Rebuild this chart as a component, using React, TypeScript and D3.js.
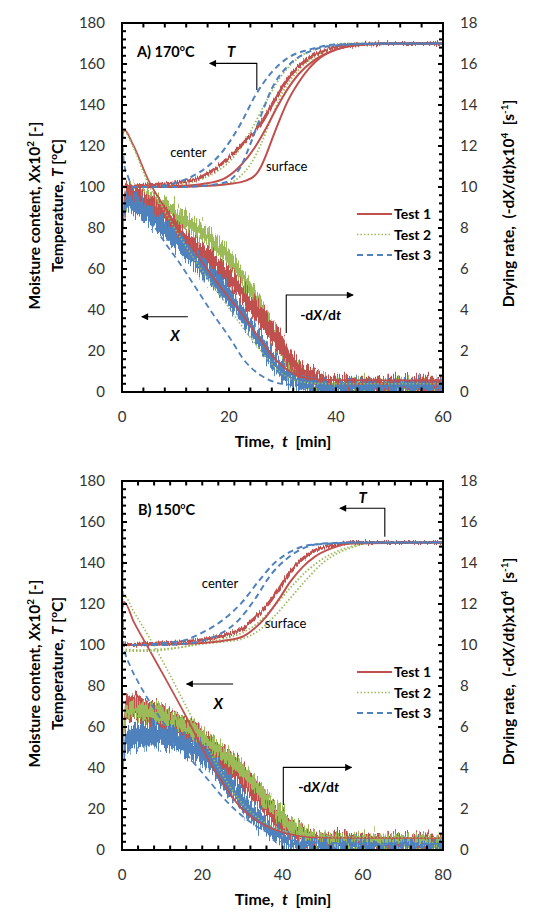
import * as d3 from "d3";

type Pt = [number, number];
type Band = [number, number, number]; // time, mean rate, half-width of the scatter

const testNames = ["Test 1", "Test 2", "Test 3"];
const colors = ["#C0504D", "#9BBB59", "#4F81BD"];
const dashes = ["none", "1.5 2", "6 4"];
const widths = [2, 1.8, 2];

const leftTicks = d3.range(0, 181, 20);
const rightTicks = d3.range(0, 19, 2);

// ---- A) 170 °C, 60 min ----
const aTimeTicks = [0, 20, 40, 60];

const aX1: Pt[] = [[0, 122], [0.4, 128], [2, 121], [5, 103], [8, 90], [11, 78], [14, 67], [17, 56], [20, 46], [23, 36], [26, 25], [29, 15], [32, 9], [35, 6.5], [40, 5.8], [60, 5.6]];
const aX2: Pt[] = [[0, 120], [0.4, 127], [2, 120], [5, 101], [8, 88], [11, 75], [14, 63], [17, 52], [20, 41], [23, 30], [26, 20], [29, 11], [32, 6], [35, 4.5], [40, 4], [60, 4]];
const aX3: Pt[] = [[0, 125], [0.4, 111], [1, 106], [2, 99], [3, 93], [5, 85], [8, 73], [11, 62], [14, 50], [17, 38], [20, 27], [23, 15], [26, 8], [29, 4.5], [32, 3.5], [40, 3], [60, 3]];

const aT1c: Pt[] = [[0, 100], [5, 101], [10, 102], [14, 104], [18, 110], [21, 117], [24, 125], [26, 131], [28, 140], [30, 149], [32, 156], [35, 163], [38, 167], [42, 169], [50, 170], [60, 170]];
const aT1m: Pt[] = [[0, 100], [10, 100.5], [15, 101.5], [19, 104], [22, 110], [25, 120], [27, 129], [29, 139], [31, 148], [33, 155], [36, 162], [40, 167], [45, 169.5], [52, 170], [60, 170]];
const aT1s: Pt[] = [[0, 100], [10, 100], [15, 100.5], [20, 101.5], [23, 103], [25, 106], [26, 110], [27, 116], [28, 123], [29.5, 133], [31, 142], [33, 151], [35, 158], [37, 163], [40, 167], [45, 169.5], [50, 170], [60, 170]];
const aT2c: Pt[] = [[0, 100], [10, 101], [15, 104], [18, 108], [21, 115], [24, 127], [27, 142], [30, 155], [33, 163], [37, 168], [42, 170], [60, 170]];
const aT2s: Pt[] = [[0, 100], [15, 100.5], [20, 102], [22, 105], [24, 111], [26, 121], [28, 134], [30, 146], [33, 157], [37, 165], [42, 169.5], [60, 170]];
const aT3c: Pt[] = [[0, 100], [5, 100], [10, 102], [13, 105], [16, 110], [19, 118], [22, 130], [25, 145], [28, 156], [31, 163], [35, 167], [40, 169.5], [50, 170], [60, 170]];
const aT3s: Pt[] = [[0, 100], [10, 100], [15, 100.5], [18, 101.5], [20, 103], [22, 109], [24, 121], [26, 135], [28, 148], [31, 159], [35, 166], [40, 169], [50, 170], [60, 170]];

const aRate1: Band[] = [[0, 0, 0], [0.3, 9.0, 0.4], [1, 9.6, 0.45], [3, 9.5, 0.45], [6, 9.0, 0.45], [9, 8.2, 0.45], [12, 7.4, 0.45], [15, 6.8, 0.45], [18, 6.1, 0.45], [21, 5.3, 0.45], [24, 4.3, 0.45], [27, 3.3, 0.5], [30, 2.2, 0.5], [32, 1.4, 0.45], [34, 0.9, 0.4], [36, 0.7, 0.35], [40, 0.4, 0.3], [60, 0.4, 0.3]];
const aRate2: Band[] = [[0, 0, 0], [0.3, 8.8, 0.4], [1, 9.6, 0.4], [3, 9.5, 0.4], [6, 9.2, 0.4], [9, 8.8, 0.4], [12, 8.3, 0.4], [15, 7.8, 0.4], [18, 7.1, 0.4], [21, 6.2, 0.4], [24, 5.0, 0.4], [27, 3.6, 0.4], [30, 2.1, 0.4], [32, 1.2, 0.35], [34, 0.7, 0.3], [37, 0.4, 0.3], [40, 0.3, 0.3], [60, 0.3, 0.3]];
const aRate3: Band[] = [[0, 0, 0], [0.3, 8.5, 0.4], [1, 9.3, 0.45], [3, 9.0, 0.45], [6, 8.5, 0.45], [9, 7.7, 0.45], [12, 6.9, 0.45], [15, 6.1, 0.45], [18, 5.3, 0.45], [21, 4.3, 0.45], [24, 3.2, 0.45], [27, 2.0, 0.45], [30, 1.0, 0.4], [33, 0.5, 0.35], [36, 0.3, 0.3], [40, 0.25, 0.25], [60, 0.25, 0.25]];

// ---- B) 150 °C, 80 min ----
const bTimeTicks = [0, 20, 40, 60, 80];

const bX1: Pt[] = [[0, 117], [0.5, 121], [3, 111], [7, 97], [11, 83], [16, 65], [21, 46], [25, 33], [29, 22], [33, 15], [38, 10], [43, 7.3], [50, 6], [80, 5.8]];
const bX2: Pt[] = [[0, 120], [0.5, 124], [3, 116], [7, 103], [11, 89], [16, 70], [21, 51], [25, 37], [29, 25], [33, 17], [38, 11], [43, 8], [50, 6.5], [80, 6]];
const bX3: Pt[] = [[0.05, 180], [0.3, 104], [0.6, 98], [2, 90], [4, 82], [7, 72], [10, 63], [13, 55], [16, 47], [19, 40], [22, 33], [25, 26], [28, 20], [31, 15], [34, 11], [37, 8], [40, 6], [45, 4], [50, 3.5], [80, 3]];

const bT1c: Pt[] = [[0, 100], [10, 101], [15, 101.5], [20, 102.5], [25, 104.5], [30, 108], [33, 113], [36, 119], [39, 127], [42, 136], [45, 142], [48, 146], [52, 148.5], [58, 150], [80, 150]];
const bT1s: Pt[] = [[0, 100], [15, 100.5], [20, 101], [25, 102], [30, 104], [33, 108], [36, 114], [39, 122], [42, 131], [45, 138], [48, 143], [52, 147], [57, 149.5], [80, 150]];
const bT2c: Pt[] = [[0, 98], [5, 97.5], [10, 98], [15, 99], [20, 101], [25, 103], [30, 106], [34, 111], [38, 119], [42, 128], [46, 136], [50, 142], [54, 146], [58, 148.5], [62, 150], [80, 150]];
const bT2s: Pt[] = [[0, 97], [5, 97], [10, 97.5], [15, 99], [20, 100.5], [25, 101.5], [30, 103], [34, 107], [38, 114], [42, 123], [46, 132], [50, 140], [54, 145], [58, 148], [63, 150], [80, 150]];
const bT3c: Pt[] = [[0, 100], [5, 100], [10, 101], [15, 102], [20, 106], [25, 112], [30, 121], [34, 131], [38, 140], [42, 145.5], [46, 148.5], [52, 149.5], [60, 150], [80, 150]];
const bT3s: Pt[] = [[0, 100], [10, 100], [15, 100.5], [20, 102], [25, 106], [29, 112], [33, 122], [37, 134], [41, 142], [45, 147], [50, 149.5], [60, 150], [80, 150]];

const bRate1: Band[] = [[0, 0, 0], [0.3, 5.0, 0.5], [1, 6.8, 0.6], [3, 7.0, 0.6], [6, 6.7, 0.6], [9, 6.5, 0.6], [12, 6.2, 0.6], [15, 5.9, 0.6], [18, 5.6, 0.6], [21, 5.1, 0.6], [24, 4.6, 0.6], [27, 4.1, 0.6], [30, 3.6, 0.6], [33, 2.9, 0.6], [36, 2.2, 0.55], [39, 1.5, 0.5], [42, 1.0, 0.45], [45, 0.7, 0.4], [50, 0.5, 0.3], [80, 0.4, 0.3]];
const bRate2: Band[] = [[0, 0, 0], [0.3, 5.5, 0.35], [1, 6.7, 0.35], [3, 6.9, 0.35], [6, 6.8, 0.35], [9, 6.6, 0.35], [12, 6.4, 0.35], [15, 6.1, 0.35], [18, 5.8, 0.35], [21, 5.4, 0.35], [24, 4.9, 0.35], [27, 4.4, 0.35], [30, 3.9, 0.35], [33, 3.2, 0.35], [36, 2.5, 0.35], [39, 1.8, 0.35], [42, 1.2, 0.35], [45, 0.8, 0.3], [50, 0.5, 0.3], [80, 0.35, 0.3]];
const bRate3: Band[] = [[0, 0, 0], [0.3, 4.0, 0.5], [1, 5.3, 0.5], [3, 5.5, 0.5], [6, 5.6, 0.5], [9, 5.6, 0.5], [12, 5.5, 0.5], [15, 5.2, 0.5], [18, 4.9, 0.5], [21, 4.5, 0.5], [24, 3.8, 0.5], [27, 3.1, 0.5], [30, 2.4, 0.5], [33, 1.7, 0.45], [36, 1.2, 0.4], [39, 0.7, 0.35], [42, 0.4, 0.3], [45, 0.25, 0.25], [80, 0.2, 0.2]];

const plotLeft = 122;
const plotWidth = 321;
const plotHeight = 369;
const font = "Lato, 'Open Sans', sans-serif";
const sp = "\u00A0";

type Temp = { data: Pt[]; test: number; w?: number; noisy?: boolean };
type Notes = {
  title: string;
  titleAt: Pt;
  tAt: Pt;
  tArrow: Pt[];
  centerAt: Pt;
  surfaceAt: Pt;
  xArrow: Pt[];
  xAt: Pt;
  rArrow: Pt[];
  rAt: Pt;
};

// each scatter band gets its own noise so overlapping bands interleave
const bandFilters = ["url(#jag0)", "url(#jag1)", "url(#jag2)"];

function Panel({ id, top, xMax, timeTicks, temps, moist, rates, bandOrder, notes }: {
  id: string; top: number; xMax: number; timeTicks: number[];
  temps: Temp[]; moist: Pt[][]; rates: Band[][]; bandOrder: number[]; notes: Notes;
}) {
  const x = d3.scaleLinear().domain([0, xMax]).range([0, plotWidth]);
  const y = d3.scaleLinear().domain([0, 180]).range([plotHeight, 0]);
  const yR = d3.scaleLinear().domain([0, 18]).range([plotHeight, 0]);

  const line = d3.line<Pt>().x((d) => x(d[0])).y((d) => y(d[1])).curve(d3.curveMonotoneX);
  const band = d3.area<Band>()
    .x((d) => x(d[0]))
    .y0((d) => yR(Math.max(0, d[1] - d[2])))
    .y1((d) => yR(d[1] + d[2]))
    .curve(d3.curveMonotoneX);
  const poly = (pts: Pt[]) => "M" + pts.map((p) => `${x(p[0])},${y(p[1])}`).join("L");

  const minorY = d3.range(0, 181, 4);
  const minorX = d3.range(0, xMax + 0.1, 4);
  const lw = 2;

  return (
    <g transform={`translate(${plotLeft},${top})`}>
      <defs>
        <clipPath id={`clip-${id}`}>
          <rect x={0} y={0} width={plotWidth} height={plotHeight} />
        </clipPath>
      </defs>

      <g clipPath={`url(#clip-${id})`}>
        {/* drying rate, right axis */}
        {bandOrder.map((i) => (
          <path key={`r${i}`} d={band(rates[i]) || ""} fill={colors[i]} filter={bandFilters[i]} />
        ))}
        {/* moisture content */}
        {moist.map((m, i) => (
          <path key={`x${i}`} d={line(m) || ""} fill="none" stroke={colors[i]}
            strokeWidth={i === 1 ? 1.6 : 1.8} strokeDasharray={dashes[i]} />
        ))}
        {/* temperatures */}
        {temps.map((s, i) => (
          <path key={`t${i}`} d={line(s.data) || ""} fill="none" stroke={colors[s.test]}
            strokeWidth={s.w ?? widths[s.test]} strokeDasharray={dashes[s.test]}
            filter={s.noisy ? "url(#jagThin)" : undefined} />
        ))}
      </g>

      {/* annotations */}
      <g fontFamily={font} fill="#000">
        <text x={x(notes.titleAt[0])} y={y(notes.titleAt[1])} fontSize={14.5} fontWeight="bold">
          {notes.title}
          <tspan dy={-6} fontSize={9}>o</tspan>
          <tspan dy={6}>C</tspan>
        </text>
        <text x={x(notes.tAt[0])} y={y(notes.tAt[1])} fontSize={15} fontWeight="bold" fontStyle="italic" textAnchor="middle">T</text>
        <path d={poly(notes.tArrow)} fill="none" stroke="#000" strokeWidth={1.1} markerEnd="url(#head)" />
        <text x={x(notes.centerAt[0])} y={y(notes.centerAt[1])} fontSize={13}>center</text>
        <text x={x(notes.surfaceAt[0])} y={y(notes.surfaceAt[1])} fontSize={13}>surface</text>
        <path d={poly(notes.xArrow)} fill="none" stroke="#000" strokeWidth={1.1} markerEnd="url(#head)" />
        <text x={x(notes.xAt[0])} y={y(notes.xAt[1])} fontSize={15} fontWeight="bold" fontStyle="italic" textAnchor="middle">X</text>
        <path d={poly(notes.rArrow)} fill="none" stroke="#000" strokeWidth={1.1} markerEnd="url(#head)" />
        <text x={x(notes.rAt[0])} y={y(notes.rAt[1])} fontSize={14} fontWeight="bold">
          -d<tspan fontStyle="italic">X</tspan>/d<tspan fontStyle="italic">t</tspan>
        </text>
      </g>

      {/* legend */}
      <g fontFamily={font} fontSize={14} fontWeight="bold">
        {testNames.map((n, i) => (
          <g key={n} transform={`translate(0,${191 + i * 20.5})`}>
            <line x1={plotWidth - 86} x2={plotWidth - 51} y1={0} y2={0} stroke={colors[i]}
              strokeWidth={i === 1 ? 1.6 : 2} strokeDasharray={dashes[i]} />
            <text x={plotWidth - 49} y={5}>{n}</text>
          </g>
        ))}
      </g>

      {/* frame and ticks */}
      <g stroke="#000" strokeWidth={lw}>
        {minorY.map((v) => (
          <g key={`ty${v}`}>
            <line x1={0} x2={v % 20 === 0 ? 5 : 4} y1={y(v)} y2={y(v)} />
            <line x1={plotWidth} x2={plotWidth - (v % 20 === 0 ? 5 : 4)} y1={y(v)} y2={y(v)} />
          </g>
        ))}
        {minorX.map((t) => (
          <g key={`tx${t}`}>
            <line x1={x(t)} x2={x(t)} y1={plotHeight} y2={plotHeight - 4.5} />
            <line x1={x(t)} x2={x(t)} y1={0} y2={4.5} />
          </g>
        ))}
        <rect x={0} y={0} width={plotWidth} height={plotHeight} fill="none" />
      </g>

      {/* tick labels */}
      <g fontFamily={font} fontSize={15} fill="#333">
        {leftTicks.map((v) => (
          <text key={`l${v}`} x={-17} y={y(v)} dy="0.36em" textAnchor="end">{v}</text>
        ))}
        {rightTicks.map((v) => (
          <text key={`r${v}`} x={plotWidth + 17} y={yR(v)} dy="0.36em">{v}</text>
        ))}
        {timeTicks.map((t) => (
          <text key={`b${t}`} x={x(t)} y={plotHeight + 30} textAnchor="middle">{t}</text>
        ))}
      </g>

      {/* axis titles */}
      <g fontFamily={font} fontWeight="bold" fill="#000">
        <text x={plotWidth / 2 + 0.5} y={plotHeight + 55} fontSize={16} textAnchor="middle">
          {`Time,${sp}${sp}`}<tspan fontStyle="italic">t</tspan>{`${sp}${sp}[min]`}
        </text>
        <text transform={`translate(${40 - plotLeft},${plotHeight / 2 + 8}) rotate(-90)`} fontSize={15.5} textAnchor="middle">
          Moisture content, <tspan fontStyle="italic">X</tspan>x10<tspan dy={-6} fontSize={10}>2</tspan><tspan dy={6}> [-]</tspan>
        </text>
        <text transform={`translate(${63 - plotLeft},${plotHeight / 2 - 2}) rotate(-90)`} fontSize={15.5} textAnchor="middle">
          Temperature, <tspan fontStyle="italic">T</tspan> [<tspan dy={-6} fontSize={10}>o</tspan><tspan dy={6}>C]</tspan>
        </text>
        <text transform={`translate(${514 - plotLeft},${plotHeight / 2 - 4}) rotate(-90)`} fontSize={15.5} textAnchor="middle">
          {`Drying rate,${sp}${sp}(-d`}<tspan fontStyle="italic">X</tspan>/d<tspan fontStyle="italic">t</tspan>)x10<tspan dy={-6} fontSize={10}>4</tspan><tspan dy={6}>{`${sp}${sp}[s`}</tspan><tspan dy={-6} fontSize={10}>-1</tspan><tspan dy={6}>]</tspan>
        </text>
      </g>
    </g>
  );
}

const panelA = {
  temps: [
    { data: aT2c, test: 1 }, { data: aT2s, test: 1 },
    { data: aT1m, test: 0 }, { data: aT1s, test: 0 }, { data: aT1c, test: 0, w: 3.2, noisy: true },
    { data: aT3c, test: 2 }, { data: aT3s, test: 2 },
  ] as Temp[],
  notes: {
    title: "A) 170", titleAt: [2.8, 163.4] as Pt, tAt: [20.4, 163.4] as Pt,
    tArrow: [[25.2, 147.3], [25.2, 160.3], [16.4, 160.3]] as Pt[],
    centerAt: [9, 114.6] as Pt, surfaceAt: [26.9, 107.8] as Pt,
    xArrow: [[12.3, 36.7], [3.7, 36.7]] as Pt[], xAt: [9.9, 24.9] as Pt,
    rArrow: [[30.7, 28.8], [30.7, 47.3], [43.2, 47.3]] as Pt[], rAt: [33.3, 35.1] as Pt,
  },
};

const panelB = {
  temps: [
    { data: bT2c, test: 1 }, { data: bT2s, test: 1 },
    { data: bT1s, test: 0 }, { data: bT1c, test: 0, w: 3.2, noisy: true },
    { data: bT3c, test: 2 }, { data: bT3s, test: 2 },
  ] as Temp[],
  notes: {
    title: "B) 150", titleAt: [4, 163.4] as Pt, tAt: [60, 169.3] as Pt,
    tArrow: [[65.5, 152.8], [65.5, 166.7], [54.3, 166.7]] as Pt[],
    centerAt: [19.9, 127.8] as Pt, surfaceAt: [35.6, 108.3] as Pt,
    xArrow: [[27.7, 81], [16.1, 81]] as Pt[], xAt: [24, 68.8] as Pt,
    rArrow: [[40.2, 22], [40.2, 40.3], [57.2, 40.3]] as Pt[], rAt: [43.9, 28.3] as Pt,
  },
};

const noiseMatrix = "0 0 0 0 0.5  0 1 0 0 0  0 0 0 0 0  0 0 0 0 1";

function Jag({ id, seed, scale, freq }: { id: string; seed: number; scale: number; freq: string }) {
  return (
    <filter id={id} x="-5%" y="-10%" width="110%" height="120%" colorInterpolationFilters="sRGB">
      <feTurbulence type="fractalNoise" baseFrequency={freq} numOctaves={2} seed={seed} result="n" />
      <feColorMatrix in="n" type="matrix" values={noiseMatrix} result="m" />
      <feDisplacementMap in="SourceGraphic" in2="m" scale={scale} xChannelSelector="R" yChannelSelector="G" />
    </filter>
  );
}

export default function App() {
  return (
    <svg width={535} height={916} style={{ position: "absolute", left: 0, top: 0, background: "#fff" }}>
      <defs>
        <Jag id="jag0" seed={4} scale={26} freq="1.1 0.06" />
        <Jag id="jag1" seed={11} scale={28} freq="1.1 0.06" />
        <Jag id="jag2" seed={23} scale={26} freq="1.1 0.06" />
        <Jag id="jagThin" seed={9} scale={7} freq="0.9 0.05" />
        <marker id="head" viewBox="0 0 10 10" refX={9} refY={5} markerWidth={9} markerHeight={7}
          markerUnits="userSpaceOnUse" orient="auto">
          <path d="M0,0L10,5L0,10Z" fill="#000" />
        </marker>
      </defs>
      <Panel id="a" top={23} xMax={60} timeTicks={aTimeTicks} temps={panelA.temps}
        moist={[aX1, aX2, aX3]} rates={[aRate1, aRate2, aRate3]} bandOrder={[1, 0, 2]} notes={panelA.notes} />
      <Panel id="b" top={481} xMax={80} timeTicks={bTimeTicks} temps={panelB.temps}
        moist={[bX1, bX2, bX3]} rates={[bRate1, bRate2, bRate3]} bandOrder={[0, 1, 2]} notes={panelB.notes} />
    </svg>
  );
}
